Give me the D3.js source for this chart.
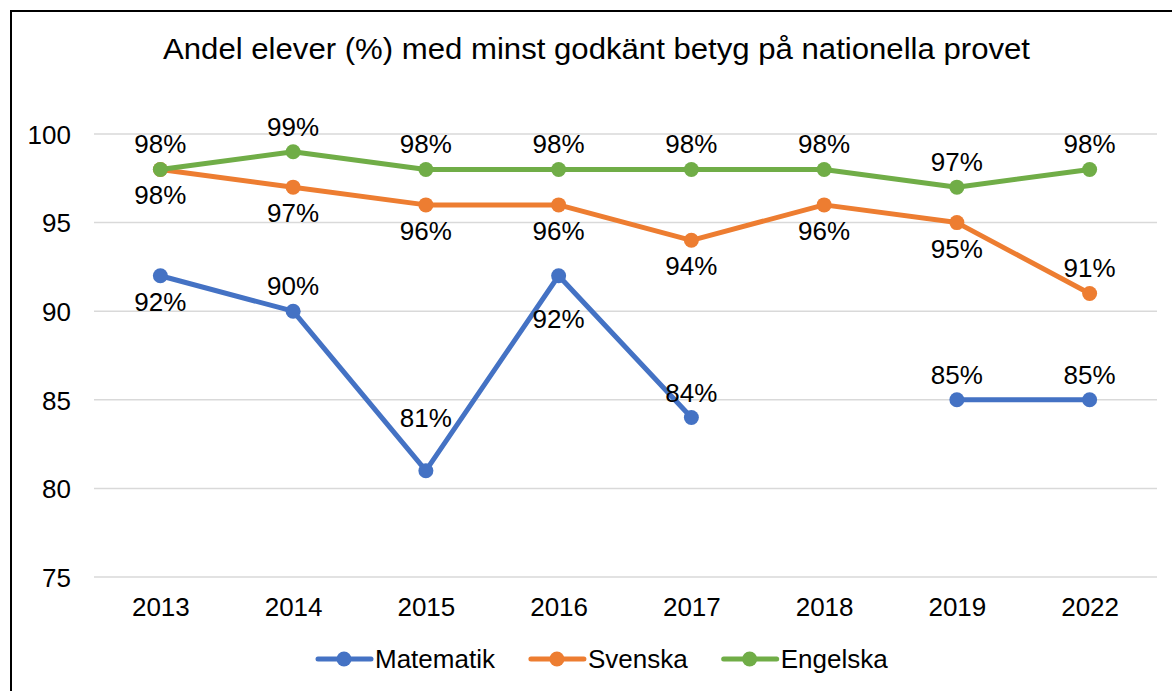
<!DOCTYPE html>
<html>
<head>
<meta charset="utf-8">
<script src="https://cdn.jsdelivr.net/npm/d3@7"></script>
<style>
  body { margin: 0; background: #fff; }
  text { font-family: "Liberation Sans", Arial, sans-serif; fill: #000; }
</style>
</head>
<body>
<div id="chart"></div>
<script>
// data
var years = ["2013", "2014", "2015", "2016", "2017", "2018", "2019", "2022"];
var matematik = [92, 90, 81, 92, 84, null, 85, 85];
var svenska = [98, 97, 96, 96, 94, 96, 95, 91];
var engelska = [98, 99, 98, 98, 98, 98, 97, 98];
var yTicks = [75, 80, 85, 90, 95, 100];
// where each label sits: a = above, b = below, A / B = moved further out
var matPlace = ["b", "a", "A", "B", "a", "a", "a", "a"];
var svePlace = ["b", "b", "b", "b", "b", "b", "b", "a"];
var engPlace = ["a", "a", "a", "a", "a", "a", "a", "a"];

var series = [
  {name: "Matematik", values: matematik, place: matPlace, color: "#4472C4"},
  {name: "Svenska", values: svenska, place: svePlace, color: "#ED7D31"},
  {name: "Engelska", values: engelska, place: engPlace, color: "#70AD47"}
];
var labelDy = {a: -16, b: 35, A: -44, B: 52};

var W = 1172, H = 691;
var fs = "26px";

var svg = d3.select("#chart").append("svg")
    .attr("width", W)
    .attr("height", H);

// outer frame
svg.append("rect")
    .attr("x", 11).attr("y", 11)
    .attr("width", W + 20).attr("height", H + 20)
    .attr("fill", "none")
    .attr("stroke", "#000")
    .attr("stroke-width", 2);

svg.append("text")
    .attr("x", 163)
    .attr("y", 59)
    .attr("font-size", "29px")
    .attr("textLength", 867)
    .attr("lengthAdjust", "spacingAndGlyphs")
    .text("Andel elever (%) med minst godkänt betyg på nationella provet");

var x = d3.scalePoint()
    .domain(years)
    .range([94, 1156])
    .padding(0.5);

var y = d3.scaleLinear()
    .domain([75, 100])
    .range([577, 134]);

// grid
svg.append("g")
    .selectAll("line")
    .data(yTicks)
    .enter().append("line")
      .attr("x1", 94).attr("x2", 1157)
      .attr("y1", function(d){ return y(d); })
      .attr("y2", function(d){ return y(d); })
      .attr("stroke", "#d9d9d9")
      .attr("stroke-width", 1.5);

var yAxis = svg.append("g")
    .attr("transform", "translate(94,0)")
    .call(d3.axisLeft(y).tickValues(yTicks).tickSize(0).tickPadding(23));
yAxis.select(".domain").remove();
yAxis.selectAll("text")
    .attr("font-size", fs)
    .attr("font-family", "Liberation Sans, Arial, sans-serif")
    .attr("dy", "0.36em");

var xAxis = svg.append("g")
    .attr("transform", "translate(0,577)")
    .call(d3.axisBottom(x).tickSize(0).tickPadding(0));
xAxis.select(".domain").remove();
xAxis.selectAll("text")
    .attr("font-size", fs)
    .attr("font-family", "Liberation Sans, Arial, sans-serif")
    .attr("y", 39)
    .attr("dy", 0);

var line = d3.line()
    .defined(function(d){ return d != null; })
    .x(function(d, i){ return x(years[i]); })
    .y(function(d){ return y(d); });

series.forEach(function(s){
  var g = svg.append("g");
  g.append("path")
      .attr("d", line(s.values))
      .attr("fill", "none")
      .attr("stroke", s.color)
      .attr("stroke-width", 5)
      .attr("stroke-linejoin", "round")
      .attr("stroke-linecap", "round");

  var pts = s.values.map(function(v, i){ return {v: v, i: i}; })
      .filter(function(d){ return d.v != null; });

  g.selectAll("circle")
    .data(pts)
    .enter().append("circle")
      .attr("cx", function(d){ return x(years[d.i]); })
      .attr("cy", function(d){ return y(d.v); })
      .attr("r", 7.5)
      .attr("fill", s.color);

  s.pts = pts;
});

// labels on top of everything
series.forEach(function(s){
  svg.append("g").selectAll("text")
    .data(s.pts)
    .enter().append("text")
      .attr("x", function(d){ return x(years[d.i]); })
      .attr("y", function(d){ return y(d.v) + labelDy[s.place[d.i]]; })
      .attr("text-anchor", "middle")
      .attr("font-size", fs)
      .text(function(d){ return d.v + "%"; });
});

// legend, items laid out left to right
var legend = svg.append("g").attr("transform", "translate(317,659)");
var lx = 0;
series.forEach(function(s){
  var lg = legend.append("g").attr("transform", "translate(" + lx + ",0)");
  lg.append("line")
      .attr("x1", 1).attr("x2", 54)
      .attr("stroke", s.color)
      .attr("stroke-width", 5)
      .attr("stroke-linecap", "round");
  lg.append("circle")
      .attr("cx", 27).attr("r", 7.5)
      .attr("fill", s.color);
  var t = lg.append("text")
      .attr("x", 58)
      .attr("y", 9)
      .attr("font-size", fs)
      .text(s.name);
  lx += 58 + t.node().getComputedTextLength() + 35;
});
</script>
</body>
</html>
